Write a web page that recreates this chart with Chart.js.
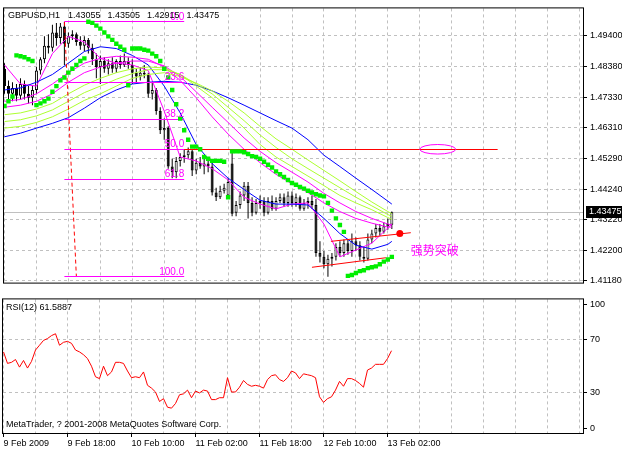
<!DOCTYPE html>
<html><head><meta charset="utf-8">
<script src="https://cdn.jsdelivr.net/npm/chart.js@4.4.1/dist/chart.umd.min.js"></script>
<style>
html,body{margin:0;padding:0;background:#fff;}
#wrap{position:relative;width:622px;height:451px;overflow:hidden;}
canvas{position:absolute;left:0;display:block;}
#main{top:0;}
#rsi{top:291px;}
</style></head><body>
<div id="wrap">
<canvas id="main" width="622" height="291"></canvas>
<canvas id="rsi" width="622" height="160"></canvas>
</div>
<script>
// ---------------- DATA ----------------
const symbolName = 'GBPUSD';
const timeframe = 'H1';

const barOpen = [1.4829,1.4771,1.4745,1.4765,1.4739,1.4778,1.4745,1.4732,1.4758,1.4823,
1.4861,1.4906,1.4900,1.4951,1.4932,1.4971,1.4913,1.4938,1.4945,1.4919,
1.4906,1.4926,1.4900,1.4861,1.4835,1.4855,1.4829,1.4848,1.4829,1.4855,
1.4842,1.4855,1.4842,1.4816,1.4803,1.4816,1.4810,1.4745,1.4758,1.4687,
1.4623,1.4630,1.4501,1.4482,1.4520,1.4533,1.4539,1.4552,1.4488,1.4514,
1.4501,1.4511,1.4501,1.4414,1.4398,1.4420,1.4404,1.4511,1.4346,1.4372,
1.4404,1.4437,1.4379,1.4346,1.4379,1.4385,1.4346,1.4385,1.4359,1.4385,
1.4398,1.4379,1.4404,1.4379,1.4398,1.4359,1.4379,1.4385,1.4372,1.4211,
1.4198,1.4173,1.4192,1.4198,1.4231,1.4211,1.4244,1.4218,1.4250,1.4237,
1.4198,1.4192,1.4256,1.4276,1.4295,1.4282,1.4301,1.43055];
const barHigh = [1.4848,1.4790,1.4784,1.4778,1.4797,1.4790,1.4771,1.4771,1.4835,1.4868,
1.4938,1.4945,1.4977,1.4983,1.4983,1.4987,1.4951,1.4958,1.4951,1.4938,
1.4938,1.4932,1.4913,1.4880,1.4874,1.4868,1.4861,1.4868,1.4861,1.4874,
1.4880,1.4868,1.4861,1.4829,1.4835,1.4842,1.4816,1.4784,1.4765,1.4700,
1.4662,1.4636,1.4527,1.4533,1.4546,1.4559,1.4565,1.4559,1.4527,1.4533,
1.4527,1.4520,1.4514,1.4430,1.4437,1.4443,1.4462,1.4552,1.4385,1.4417,
1.4449,1.4449,1.4398,1.4392,1.4404,1.4398,1.4398,1.4404,1.4398,1.4411,
1.4411,1.4417,1.4417,1.4411,1.4404,1.4392,1.4398,1.4404,1.4392,1.4250,
1.4218,1.4205,1.4211,1.4244,1.4250,1.4256,1.4256,1.4276,1.4263,1.4250,
1.4231,1.4276,1.4289,1.4308,1.4308,1.4314,1.4327,1.43505];
const barLow = [1.4745,1.4726,1.4720,1.4720,1.4726,1.4726,1.4713,1.4707,1.4745,1.4810,
1.4848,1.4880,1.4887,1.4906,1.4913,1.4842,1.4900,1.4926,1.4906,1.4893,
1.4887,1.4880,1.4842,1.4797,1.4778,1.4816,1.4810,1.4816,1.4816,1.4829,
1.4835,1.4829,1.4778,1.4784,1.4790,1.4797,1.4732,1.4726,1.4675,1.4610,
1.4591,1.4494,1.4462,1.4462,1.4501,1.4514,1.4527,1.4469,1.4475,1.4494,
1.4475,1.4482,1.4404,1.4385,1.4392,1.4411,1.4398,1.4334,1.4334,1.4359,
1.4385,1.4327,1.4334,1.4340,1.4359,1.4334,1.4340,1.4353,1.4353,1.4379,
1.4366,1.4366,1.4366,1.4366,1.4353,1.4353,1.4359,1.4359,1.4198,1.4179,
1.4160,1.4131,1.4166,1.4186,1.4198,1.4198,1.4205,1.4198,1.4218,1.4186,
1.4179,1.4186,1.4244,1.4263,1.4269,1.4276,1.4289,1.42915];
const barClose = [1.4771,1.4745,1.4765,1.4739,1.4778,1.4745,1.4732,1.4758,1.4823,1.4861,
1.4906,1.4900,1.4951,1.4932,1.4971,1.4913,1.4938,1.4945,1.4919,1.4906,
1.4926,1.4900,1.4861,1.4835,1.4855,1.4829,1.4848,1.4829,1.4855,1.4842,
1.4855,1.4842,1.4816,1.4803,1.4816,1.4810,1.4745,1.4758,1.4687,1.4623,
1.4630,1.4501,1.4482,1.4520,1.4533,1.4539,1.4552,1.4488,1.4514,1.4501,
1.4511,1.4501,1.4414,1.4398,1.4420,1.4430,1.4449,1.4343,1.4372,1.4404,
1.4437,1.4379,1.4346,1.4379,1.4385,1.4346,1.4385,1.4359,1.4385,1.4398,
1.4379,1.4404,1.4379,1.4398,1.4359,1.4379,1.4385,1.4372,1.4211,1.4198,
1.4173,1.4192,1.4198,1.4231,1.4211,1.4244,1.4218,1.4250,1.4237,1.4198,
1.4192,1.4256,1.4276,1.4295,1.4282,1.4301,1.4308,1.43475];

// Parabolic SAR, one value per bar
const sarValues = [1.4704,1.4720,1.4736,1.4874,1.4871,1.4868,1.4861,1.4855,1.4707,1.4713,
1.4720,1.4729,1.4752,1.4771,1.4790,1.4800,1.4816,1.4829,1.4842,1.4855,
1.4864,1.4987,1.4983,1.4974,1.4964,1.4951,1.4938,1.4926,1.4913,1.4903,
1.4893,1.4774,1.4897,1.4897,1.4897,1.4893,1.4890,1.4880,1.4871,1.4855,
1.4829,1.4800,1.4758,1.4710,1.4662,1.4623,1.4591,1.4568,1.4568,1.4559,
1.4533,1.4527,1.4520,1.4520,1.4520,1.4517,1.4398,1.4552,1.4552,1.4552,
1.4549,1.4543,1.4536,1.4533,1.4527,1.4517,1.4507,1.4498,1.4485,1.4475,
1.4466,1.4456,1.4446,1.4440,1.4433,1.4427,1.4420,1.4414,1.4408,1.4404,
1.4401,1.4379,1.4353,1.4327,1.4305,1.4282,1.4134,1.4137,1.4144,1.4150,
1.4153,1.4160,1.4163,1.4166,1.4173,1.4182,1.4189,1.4198];

// Moving averages, read at these bars
const maBars = [0,4,8,12,16,20,24,28,32,36,40,44,48,52,56,60,64,68,72,76,80,84,88,92,96,97];
const maBlueSlow = [1.4601,1.4613,1.4630,1.4646,1.4665,1.4697,1.4732,1.4758,1.4778,1.4784,1.4787,1.4784,1.4774,1.4755,1.4732,1.4707,1.4681,1.4655,1.4630,1.4591,1.4539,1.4501,1.4462,1.4424,1.4385,1.4375];
const maBlueFast = [1.4758,1.4765,1.4784,1.4810,1.4848,1.4887,1.4903,1.4897,1.4874,1.4842,1.4771,1.4681,1.4575,1.4511,1.4462,1.4424,1.4388,1.4375,1.4375,1.4372,1.4327,1.4276,1.4237,1.4224,1.4240,1.4250];
const maMagentaFast = [1.4842,1.4778,1.4771,1.4880,1.4938,1.4919,1.4864,1.4848,1.4842,1.4823,1.4687,1.4533,1.4520,1.4494,1.4456,1.4398,1.4375,1.4359,1.4375,1.4379,1.4308,1.4198,1.4221,1.4244,1.4295,1.4308];
const maMagentaA = [1.4720,1.4726,1.4745,1.4778,1.4816,1.4848,1.4864,1.4871,1.4868,1.4861,1.4835,1.4790,1.4732,1.4668,1.4610,1.4559,1.4514,1.4475,1.4443,1.4414,1.4379,1.4350,1.4327,1.4311,1.4298,1.4298];
const maMagentaB = [1.4700,1.4707,1.4720,1.4745,1.4784,1.4816,1.4835,1.4848,1.4855,1.4855,1.4839,1.4803,1.4752,1.4700,1.4649,1.4597,1.4552,1.4514,1.4482,1.4449,1.4411,1.4379,1.4350,1.4327,1.4308,1.4305];
const maYellowA = [1.4675,1.4681,1.4694,1.4713,1.4745,1.4774,1.4797,1.4816,1.4829,1.4835,1.4832,1.4810,1.4771,1.4732,1.4681,1.4630,1.4575,1.4533,1.4501,1.4469,1.4437,1.4404,1.4379,1.4356,1.4330,1.4324];
const maYellowB = [1.4652,1.4658,1.4671,1.4691,1.4720,1.4749,1.4771,1.4794,1.4813,1.4826,1.4826,1.4810,1.4778,1.4745,1.4700,1.4655,1.4607,1.4565,1.4527,1.4494,1.4462,1.4430,1.4398,1.4369,1.4340,1.4334];
const maYellowC = [1.4630,1.4636,1.4649,1.4668,1.4694,1.4723,1.4745,1.4771,1.4797,1.4810,1.4816,1.4803,1.4781,1.4755,1.4720,1.4681,1.4636,1.4594,1.4559,1.4523,1.4488,1.4453,1.4417,1.4382,1.4350,1.4343];

// RSI(12), one value per bar
const rsiValues = [60.7,52.1,52.9,55.0,49.3,54.3,48.6,53.6,62.1,65.7,
69.3,70.7,72.9,74.3,65.7,67.9,68.6,67.1,62.1,60.7,
58.6,55.7,50.0,42.1,40.7,50.0,42.9,45.7,52.9,52.9,
52.1,46.4,41.4,42.1,41.4,45.7,35.7,33.6,30.7,23.6,
25.7,19.3,18.6,22.1,28.6,29.3,32.1,26.4,31.4,30.0,
32.1,31.4,25.0,25.0,26.4,26.4,41.4,30.7,30.7,34.3,
39.3,36.4,35.0,35.7,35.0,33.6,40.0,42.9,43.6,40.0,
38.6,41.4,46.4,45.0,40.7,44.3,43.6,42.9,41.4,27.1,
22.9,25.7,27.1,32.1,38.6,35.0,40.7,40.7,39.3,37.1,
34.3,47.1,48.6,51.4,51.4,51.4,55.7,61.5887];

// Axes
const priceTicks = [1.41180,1.42200,1.43220,1.44240,1.45290,1.46310,1.47330,1.48380,1.49400];
const gridBars = [0,8,16,24,32,40,48,56,64,72,80,88,96,104,112,120,128,136,144];
const timeLabelBars = [0,16,32,48,64,80,96];
const timeLabels = ['9 Feb 2009','9 Feb 18:00','10 Feb 10:00','11 Feb 02:00','11 Feb 18:00','12 Feb 10:00','13 Feb 02:00'];
const rsiTickLabels = ['0','30','70','100'];

// Drawn objects (time in bars, price)
const fibHigh = 1.49866, fibLow = 1.41309;
const fibLevels = [0, 23.6, 38.2, 50, 61.8, 100];
const fibBars = [15, 45];
const fibTrendBars = [15, 18];
const fibTrendPrices = [1.49866, 1.41309];
const resistanceBars = [43.75, 123.5];
const resistancePrice = 1.45588;
const ellipseBars = [104, 113];
const ellipsePrices = [1.4575, 1.4543];
const channelUpperBars = [81.75, 101.75];
const channelUpperPrices = [1.4250, 1.4279];
const channelLowerBars = [77, 95.5];
const channelLowerPrices = [1.4163, 1.4195];
const markerBar = 99, markerPrice = 1.4276;
const noteText = '强势突破';
const noteBar = 101.75, notePrice = 1.4218;

// ---------------- CHART ----------------
const FONT = '"Liberation Sans", Arial, sans-serif';
Chart.defaults.font.family = FONT;
Chart.defaults.font.size = 9;
Chart.defaults.color = '#000';

const xMin = -0.125, xMax = 144.875;
const last = barClose.length - 1;
const currentPrice = barClose[last];
const DASH = [3, 3];
const GRID = '#c0c0c0';

const lineDs = (pts, color, order, extra) => Object.assign({
  type: 'line', data: pts, borderColor: color, borderWidth: 1,
  pointRadius: 0, tension: 0, fill: false, order
}, extra || {});
const hLine = (b0, b1, p, color, order) => lineDs([{x: b0, y: p}, {x: b1, y: p}], color, order, {snapY: true});
const maDs = (vals, color) => lineDs(maBars.map((b, k) => ({x: b, y: vals[k]})), color, 5);
const seg = (bars, prices) => bars.map((b, k) => ({x: b, y: prices[k]}));

const datasets = [
  hLine(xMin, xMax, currentPrice, GRID, 20),
  { type: 'bar', data: barOpen.map((o, i) => ({x: i, y: [barLow[i], barHigh[i]]})),
    backgroundColor: '#000', borderWidth: 0, grouped: false, barThickness: 1, maxBarThickness: 1, inflateAmount: 0, order: 12 },
  { type: 'bar', data: barOpen.map((o, i) => ({x: i, y: [o, barClose[i]]})),
    backgroundColor: barOpen.map((o, i) => barClose[i] >= o ? '#ffffff' : '#000000'),
    borderColor: '#000', borderWidth: 1, borderSkipped: false, grouped: false,
    barThickness: 3, maxBarThickness: 3, inflateAmount: 0, order: 11 },
  maDs(maYellowC, '#adff2f'),
  maDs(maYellowB, '#adff2f'),
  maDs(maYellowA, '#adff2f'),
  maDs(maMagentaB, '#ff00ff'),
  maDs(maMagentaA, '#ff00ff'),
  maDs(maBlueSlow, '#0000ff'),
  maDs(maBlueFast, '#0000ff'),
  maDs(maMagentaFast, '#ff00ff'),
  ...fibLevels.map(l => hLine(fibBars[0], fibBars[1], fibHigh - (fibHigh - fibLow) * l / 100, '#ff00ff', 4)),
  hLine(resistanceBars[0], resistanceBars[1], resistancePrice, '#ff0000', 4),
  lineDs(seg(fibTrendBars, fibTrendPrices), '#ff0000', 4, {borderDash: [4, 3]}),
  lineDs(seg(channelUpperBars, channelUpperPrices), '#ff0000', 4),
  lineDs(seg(channelLowerBars, channelLowerPrices), '#ff0000', 4),
  { type: 'line', showLine: false, data: sarValues.map((v, i) => ({x: i, y: v})),
    pointStyle: 'rect', pointRadius: 3.1, pointBackgroundColor: '#00ee00', pointBorderWidth: 0, order: 3 },
  { type: 'line', showLine: false, data: [{x: markerBar, y: markerPrice}],
    pointStyle: 'circle', pointRadius: 3.5, pointBackgroundColor: '#ff0000', pointBorderWidth: 0, order: 2 }
];

// keeps the horizontal object lines crisp on the pixel grid
const snapPlugin = {
  id: 'snapH',
  beforeDatasetDraw(chart, args) {
    const ds = chart.data.datasets[args.index];
    if (!ds.snapY) return;
    const pt = args.meta.data[0];
    const off = Math.floor(pt.y) + 0.5 - pt.y;
    chart.ctx.save();
    chart.ctx.translate(0, off);
  },
  afterDatasetDraw(chart, args) {
    const ds = chart.data.datasets[args.index];
    if (!ds.snapY) return;
    chart.ctx.restore();
  }
};

const mainDecor = {
  id: 'mainDecor',
  afterDatasetsDraw(chart) {
    const {ctx, chartArea: a, scales: {x, y}} = chart;
    ctx.save();
    // Fibonacci level labels
    ctx.font = '10px ' + FONT;
    ctx.fillStyle = '#ff00ff';
    ctx.textAlign = 'right';
    ctx.textBaseline = 'bottom';
    fibLevels.forEach(l => {
      const p = fibHigh - (fibHigh - fibLow) * l / 100;
      ctx.fillText(l.toFixed(1), x.getPixelForValue(fibBars[1]), y.getPixelForValue(p));
    });
    // ellipse
    const ex0 = x.getPixelForValue(ellipseBars[0]), ex1 = x.getPixelForValue(ellipseBars[1]);
    const ey0 = y.getPixelForValue(ellipsePrices[0]), ey1 = y.getPixelForValue(ellipsePrices[1]);
    ctx.strokeStyle = '#ff00ff'; ctx.lineWidth = 1;
    ctx.beginPath();
    ctx.ellipse((ex0 + ex1) / 2, (ey0 + ey1) / 2, Math.abs(ex1 - ex0) / 2, Math.abs(ey1 - ey0) / 2, 0, 0, Math.PI * 2);
    ctx.stroke();
    // note
    ctx.font = '12px "Noto Sans CJK SC", sans-serif';
    ctx.textAlign = 'left'; ctx.textBaseline = 'middle';
    ctx.fillText(noteText, x.getPixelForValue(noteBar), y.getPixelForValue(notePrice));
    // frame
    ctx.strokeStyle = '#000';
    ctx.strokeRect(a.left - 0.5, a.top - 0.5, a.right - a.left + 1, a.bottom - a.top + 1);
    // title
    ctx.font = '9px ' + FONT;
    ctx.fillStyle = '#000';
    const parts = [symbolName + ',' + timeframe, barOpen[last].toFixed(5), barHigh[last].toFixed(5), barLow[last].toFixed(5), barClose[last].toFixed(5)];
    let tx = a.left + 4;
    parts.forEach((s, k) => { ctx.fillText(s, tx, a.top + 7); tx += ctx.measureText(s).width + (k === 0 ? 8 : 7); });
    ctx.restore();
  },
  afterDraw(chart) {
    const {ctx, chartArea: a, scales: {y}} = chart;
    const py = Math.round(y.getPixelForValue(currentPrice));
    ctx.save();
    ctx.fillStyle = '#000';
    ctx.fillRect(a.right + 3, py - 6, chart.width - a.right - 3, 12);
    ctx.fillStyle = '#fff';
    ctx.font = '9px ' + FONT;
    ctx.textAlign = 'left'; ctx.textBaseline = 'middle';
    ctx.fillText(currentPrice.toFixed(5), a.right + 6, py);
    ctx.restore();
  }
};

new Chart(document.getElementById('main'), {
  type: 'line',
  data: { datasets },
  options: {
    responsive: false, animation: false, devicePixelRatio: 1,
    layout: { padding: { left: 3, top: 3, right: 0, bottom: 2 } },
    plugins: { legend: { display: false }, tooltip: { enabled: false } },
    scales: {
      x: { type: 'linear', min: xMin, max: xMax, offset: false,
        afterBuildTicks: s => { s.ticks = gridBars.map(v => ({value: v})); },
        afterFit: s => { s.height = 0; },
        ticks: { display: false },
        grid: { color: GRID, drawTicks: false, offset: false },
        border: { display: false, dash: DASH } },
      y: { type: 'linear', position: 'right', min: 1.41116, max: 1.50317,
        afterBuildTicks: s => { s.ticks = priceTicks.map(v => ({value: v})); },
        afterFit: s => { s.width = 39; },
        ticks: { padding: 3, callback: v => Number(v).toFixed(5) },
        grid: { color: GRID, tickColor: '#000', tickLength: 4, tickBorderDash: [] },
        border: { display: false, dash: DASH } }
    }
  },
  plugins: [snapPlugin, mainDecor]
});

const rsiInset = 3.6; // MetaTrader draws the 0 / 100 labels a few pixels inside the panel
const rsiTickValues = [rsiInset, 30, 70, 100 - rsiInset];

const rsiDecor = {
  id: 'rsiDecor',
  afterDatasetsDraw(chart) {
    const {ctx, chartArea: a} = chart;
    ctx.save();
    ctx.strokeStyle = '#000'; ctx.lineWidth = 1;
    ctx.strokeRect(a.left - 0.5, a.top - 0.5, a.right - a.left + 1, a.bottom - a.top + 1);
    ctx.font = '9px ' + FONT;
    ctx.fillStyle = '#000';
    ctx.textAlign = 'left'; ctx.textBaseline = 'middle';
    ctx.fillText('RSI(12) ' + rsiValues[rsiValues.length - 1].toFixed(4), a.left + 3, a.top + 8);
    ctx.fillText('MetaTrader, ? 2001-2008 MetaQuotes Software Corp.', a.left + 3, a.bottom - 8);
    ctx.restore();
  }
};

new Chart(document.getElementById('rsi'), {
  type: 'line',
  data: { datasets: [{ data: rsiValues.map((v, i) => ({x: i, y: v})), borderColor: '#ff0000', borderWidth: 1, pointRadius: 0, tension: 0, fill: false }] },
  options: {
    responsive: false, animation: false, devicePixelRatio: 1,
    layout: { padding: { left: 3, top: 2, right: 0, bottom: 0 } },
    plugins: { legend: { display: false }, tooltip: { enabled: false } },
    scales: {
      x: { type: 'linear', min: xMin, max: xMax, offset: false,
        afterBuildTicks: s => { s.ticks = gridBars.map(v => ({value: v})); },
        afterFit: s => { s.height = 18; },
        ticks: { autoSkip: false, maxRotation: 0, minRotation: 0, align: 'start', padding: 1,
          callback: v => { const k = timeLabelBars.indexOf(v); return k >= 0 ? timeLabels[k] : ''; } },
        grid: { color: GRID, tickLength: 4, offset: false,
          tickColor: c => (c.tick && timeLabelBars.includes(c.tick.value)) ? '#000' : 'rgba(0,0,0,0)' },
        border: { display: false, dash: DASH } },
      y: { type: 'linear', position: 'right', min: 0, max: 100,
        afterBuildTicks: s => { s.ticks = rsiTickValues.map(v => ({value: v})); },
        afterFit: s => { s.width = 39; },
        ticks: { padding: 3, callback: (v, i) => rsiTickLabels[i] },
        grid: { tickColor: '#000', tickLength: 4, tickBorderDash: [],
          color: c => (c.tick && (c.tick.value === 30 || c.tick.value === 70)) ? GRID : 'rgba(0,0,0,0)' },
        border: { display: false, dash: DASH } }
    }
  },
  plugins: [rsiDecor]
});
</script>
</body></html>
